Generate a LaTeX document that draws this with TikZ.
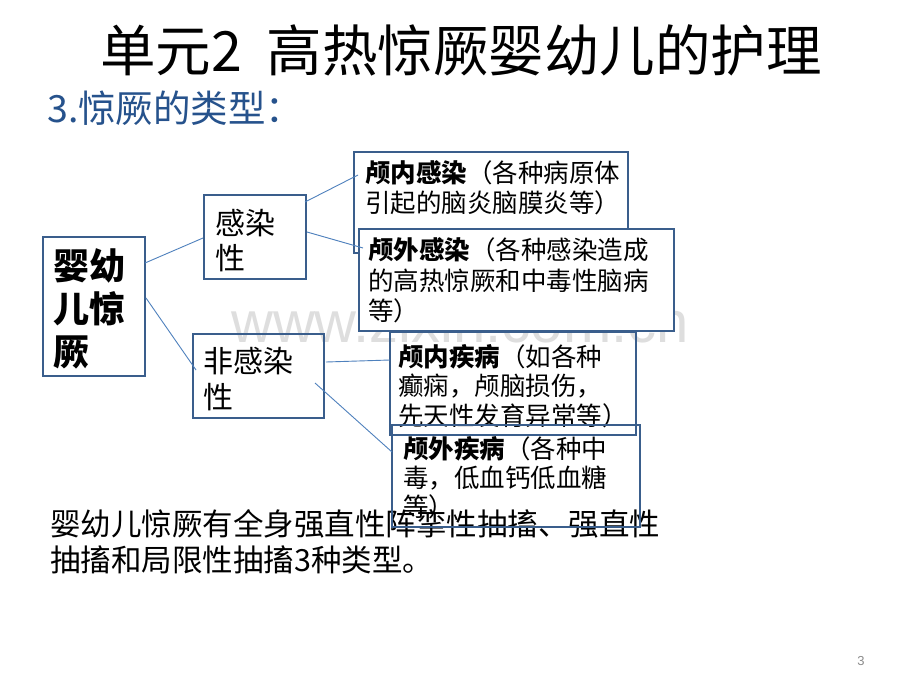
\documentclass[tikz,border=0pt]{standalone}
\usepackage{fontspec}
\newfontfamily\cjk{Noto Sans CJK SC}
\newfontfamily\wm{Liberation Sans}
\usetikzlibrary{calc}
\definecolor{boxblue}{RGB}{58,94,140}
\definecolor{linkblue}{RGB}{79,129,189}
\definecolor{subblue}{RGB}{38,82,140}
\begin{document}
\begin{tikzpicture}[x=1pt,y=-1pt,
  box/.style={draw=boxblue,line width=2.6pt,inner sep=0pt,outer sep=0pt},
  link/.style={draw=linkblue,line width=0.9pt},
  txt/.style={anchor=base west,align=left,inner sep=0pt,text=black}]
\path[fill=white] (0,0) rectangle (920,690);
\useasboundingbox (0,0) rectangle (920,690);
% watermark
\node[anchor=base,inner sep=0pt,text=black!13,font=\wm\fontsize{58}{58}\selectfont] (wm) at (460,342) {www.zixin.com.cn};
% title
\node[anchor=base west,inner sep=0pt,font=\cjk\fontsize{55.5}{60}\selectfont] (title) at (100,72) {单元2\hspace{25pt}高热惊厥婴幼儿的护理};
\node[anchor=base west,inner sep=0pt,text=subblue,font=\cjk\fontsize{37.5}{40}\selectfont] (sub) at (47,122) {3.惊厥的类型：};
% boxes
\node[box,minimum width=102,minimum height=139] (m) at (94,306.5) {};
\node[box,minimum width=102,minimum height=84] (g) at (255,237) {};
\node[box,minimum width=131,minimum height=84] (f) at (258.5,376) {};
\node[box,minimum width=274,minimum height=101] (a) at (491,202.5) {};
\node[box,fill=white,minimum width=315,minimum height=102] (b) at (516.5,280) {};
\node[box,minimum width=246,minimum height=103] (c) at (513,383.5) {};
% texts (anchor = baseline of the last line)
\node[txt,font=\cjk\bfseries\fontsize{36}{43}\selectfont] (mt) at (53,365) {婴幼\\儿惊\\厥};
\node[txt,font=\cjk\fontsize{30}{35}\selectfont] (gt) at (215,269) {感染\\性};
\node[txt,font=\cjk\fontsize{30}{36}\selectfont] (ft) at (203,408) {非感染\\性};
\node[txt,font=\cjk\fontsize{25.5}{30}\selectfont] (at) at (365,212.5) {{\bfseries 颅内感染}（各种病原体\\引起的脑炎脑膜炎等）};
\node[txt,font=\cjk\fontsize{25.5}{30.5}\selectfont] (bt) at (368,320.5) {{\bfseries 颅外感染}（各种感染造成\\的高热惊厥和中毒性脑病\\等）};
\node[txt,font=\cjk\fontsize{25.5}{29.5}\selectfont] (ct) at (398,425) {{\bfseries 颅内疾病}（如各种\\癫痫，颅脑损伤，\\先天性发育异常等）};
\node[txt,font=\cjk\fontsize{25.5}{29}\selectfont] (dt) at (403,516.5) {{\bfseries 颅外疾病}（各种中\\毒，低血钙低血糖\\等）};
\node[txt,font=\cjk\fontsize{30.5}{36}\selectfont] (bottom) at (50,571) {婴幼儿惊厥有全身强直性阵挛性抽搐、强直性\\抽搐和局限性抽搐3种类型。};
\node[box,minimum width=248,minimum height=102] (d) at (516,476) {};
% connectors
\draw[link] ($(m.east)+(0,-43.5)$) -- ($(g.west)+(-1,1)$);
\draw[link] ($(m.east)+(1,-8.5)$) -- ($(f.west)+(3,-6)$);
\draw[link] ($(g.east)+(-1,-35)$) -- ($(a.west)+(4,-27.5)$);
\draw[link] ($(g.east)+(1,-5)$) -- ($(b.west)+(4,-32)$);
\draw[link] ($(f.east)+(2,-14)$) -- ($(c.west)+(0,-23.5)$);
\draw[link] ($(f.east)+(-9,7)$) -- ($(d.west)+(0,-24)$);
% page number
\node[anchor=base,inner sep=0pt,text=black!45,font=\wm\fontsize{13}{13}\selectfont] (pg) at (861,665) {3};
\end{tikzpicture}
\end{document}
